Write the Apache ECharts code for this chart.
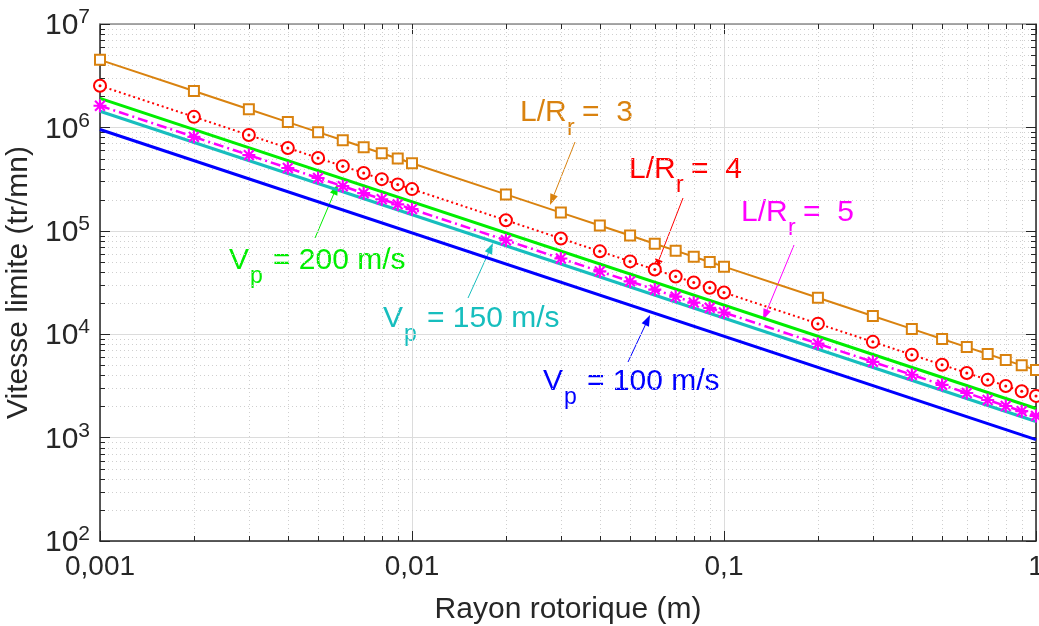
<!DOCTYPE html>
<html>
<head>
<meta charset="utf-8">
<script src="https://cdn.jsdelivr.net/npm/echarts@6/dist/echarts.min.js"></script>
<style>
  html, body { margin: 0; padding: 0; background: #fff; }
  #chart { width: 1039px; height: 626px; }
</style>
</head>
<body>
<div id="chart"></div>
<script>
// rayon rotorique (m)
const radius = [0.001, 0.002, 0.003, 0.004, 0.005, 0.006, 0.007, 0.008, 0.009,
  0.01, 0.02, 0.03, 0.04, 0.05, 0.06, 0.07, 0.08, 0.09,
  0.1, 0.2, 0.3, 0.4, 0.5, 0.6, 0.7, 0.8, 0.9, 1]

// vitesse limite (tr/mn) with markers
const lr3 = [4500000, 2250000, 1500000, 1125000, 900000, 750000, 643000, 562000, 500000,
  450000, 225000, 150000, 112500, 90000, 75000, 64300, 56200, 50000,
  45000, 22500, 15000, 11250, 9000, 7500, 6430, 5620, 5000, 4500]
const lr4 = [2530000, 1265000, 843000, 633000, 506000, 422000, 362000, 316000, 281000,
  253000, 126500, 84300, 63300, 50600, 42200, 36200, 31600, 28100,
  25300, 12650, 8430, 6330, 5060, 4220, 3620, 3160, 2810, 2530]
const lr5 = [1620000, 810000, 540000, 405000, 324000, 270000, 231000, 202000, 180000,
  162000, 81000, 54000, 40500, 32400, 27000, 23100, 20200, 18000,
  16200, 8100, 5400, 4050, 3240, 2700, 2310, 2020, 1800, 1620]

// straight peripheral-speed lines (end points)
const vpRadius = [0.001, 1]
const vp100 = [955000, 955]
const vp150 = [1432000, 1432]
const vp200 = [1910000, 1910]

// tick labels
const xTickLabels = { '-3': '0,001', '-2': '0,01', '-1': '0,1', '0': '1' }
const yDecades = [100, 1000, 10000, 100000, 1000000]
const xDecades = [0.001, 0.01, 0.1]
const minorSteps = [2, 3, 4, 5, 6, 7, 8, 9]

const xMinor = []
xDecades.forEach(d => minorSteps.forEach(m => xMinor.push([d * m, 1000])))
const yMinor = []
yDecades.forEach(d => minorSteps.forEach(m => yMinor.push([0.01, d * m])))

const pairs = (xs, ys) => xs.map((x, i) => [x, ys[i]])

const FONT = '"Liberation Sans", Arial, Helvetica, sans-serif'
const AXIS = '#262626'

const asterisk = 'path://M10,0L14,0L14,24L10,24Z M0,10L24,10L24,14L0,14Z ' +
  'M1.5,4.3L4.3,1.5L22.5,19.7L19.7,22.5Z M19.7,1.5L22.5,4.3L4.3,22.5L1.5,19.7Z'

function minorX(params, api) {
  const cs = params.coordSys
  const px = Math.round(api.coord([api.value(0), 1000])[0]) + 0.5
  const bottom = cs.y + cs.height
  return {
    type: 'group',
    children: [
      { type: 'line', shape: { x1: px, y1: cs.y, x2: px, y2: bottom }, style: { stroke: '#cfcfcf', lineWidth: 1, lineDash: [1, 3] } },
      { type: 'line', shape: { x1: px, y1: bottom, x2: px, y2: bottom - 5 }, style: { stroke: AXIS, lineWidth: 1 } },
      { type: 'line', shape: { x1: px, y1: cs.y, x2: px, y2: cs.y + 5 }, style: { stroke: AXIS, lineWidth: 1 } }
    ]
  }
}

function minorY(params, api) {
  const cs = params.coordSys
  const py = Math.round(api.coord([0.01, api.value(1)])[1]) + 0.5
  const right = cs.x + cs.width
  return {
    type: 'group',
    children: [
      { type: 'line', shape: { x1: cs.x, y1: py, x2: right, y2: py }, style: { stroke: '#cfcfcf', lineWidth: 1, lineDash: [1, 3] } },
      { type: 'line', shape: { x1: cs.x, y1: py, x2: cs.x + 5, y2: py }, style: { stroke: AXIS, lineWidth: 1 } },
      { type: 'line', shape: { x1: right, y1: py, x2: right - 5, y2: py }, style: { stroke: AXIS, lineWidth: 1 } }
    ]
  }
}

function arrow(x1, y1, x2, y2, color) {
  const a = Math.atan2(y2 - y1, x2 - x1)
  const len = 11
  const w = 4
  const bx = x2 - len * Math.cos(a)
  const by = y2 - len * Math.sin(a)
  const nx = -Math.sin(a) * w
  const ny = Math.cos(a) * w
  return [
    { type: 'line', shape: { x1: x1, y1: y1, x2: bx, y2: by }, style: { stroke: color, lineWidth: 1 } },
    { type: 'polygon', shape: { points: [[x2, y2], [bx + nx, by + ny], [bx - nx, by - ny]] }, style: { fill: color } }
  ]
}

function txt(s, x, baseline, size, color) {
  return {
    type: 'text',
    x: x,
    y: baseline - 0.31 * size,
    style: { text: s, font: size + 'px ' + FONT, fill: color, align: 'left', verticalAlign: 'middle' }
  }
}

// label with subscript: main, sub, rest
function subLabel(main, sub, rest, x, baseline, color, subDx, restDx) {
  return [
    txt(main, x, baseline, 30, color),
    txt(sub, x + subDx, baseline + 14, 23, color),
    txt(rest, x + restDx, baseline, 30, color)
  ]
}

const annotations = [].concat(
  subLabel('L/R', 'r', '=  3', 520, 122, '#D9820F', 47, 62),
  arrow(575, 142, 550, 205, '#D9820F'),
  subLabel('L/R', 'r', '=  4', 629, 179, '#FF0000', 47, 62),
  arrow(683, 198, 655, 270, '#FF0000'),
  subLabel('L/R', 'r', '=  5', 741, 222, '#FF00FF', 47, 62),
  arrow(794, 245, 763, 320, '#FF00FF'),
  subLabel('V', 'p', '= 200 m/s', 229, 270, '#00EE00', 21, 44),
  arrow(315, 238, 338, 184, '#00EE00'),
  subLabel('V', 'p', '= 150 m/s', 383, 328, '#17BEBE', 21, 44),
  arrow(468, 298, 493, 243, '#17BEBE'),
  subLabel('V', 'p', '= 100 m/s', 543, 391, '#0000FF', 21, 44),
  arrow(628, 362, 650, 315, '#0000FF')
)

const chart = echarts.init(document.getElementById('chart'))

const logX = {
  type: 'log',
  logBase: 10,
  min: 0.001,
  max: 1,
  splitNumber: 3
}
const logY = {
  type: 'log',
  logBase: 10,
  min: 100,
  max: 10000000,
  splitNumber: 5
}

chart.setOption({
  animation: false,
  backgroundColor: '#fff',
  grid: { left: 100, right: 3, top: 24, bottom: 85, containLabel: false, outerBoundsMode: 'none' },
  xAxis: [
    Object.assign({}, logX, {
      position: 'bottom',
      name: 'Rayon rotorique (m)',
      nameLocation: 'middle',
      nameGap: 54,
      nameTextStyle: { fontFamily: FONT, fontSize: 30, color: AXIS },
      axisLine: { show: true, lineStyle: { color: AXIS, width: 1.5 } },
      axisTick: { show: true, inside: true, length: 10, lineStyle: { color: AXIS } },
      axisLabel: {
        margin: 12,
        fontFamily: FONT,
        fontSize: 28,
        color: AXIS,
        formatter: v => xTickLabels[String(Math.round(Math.log10(v)))]
      },
      splitLine: { show: true, lineStyle: { color: '#dcdcdc', width: 1 } },
      minorTick: { show: false },
      minorSplitLine: { show: false }
    }),
    Object.assign({}, logX, {
      position: 'top',
      axisLine: { show: true, lineStyle: { color: '#8c8c8c', width: 1.5 } },
      axisTick: { show: true, inside: true, length: 10, lineStyle: { color: AXIS } },
      axisLabel: { show: false },
      splitLine: { show: false }
    })
  ],
  yAxis: [
    Object.assign({}, logY, {
      position: 'left',
      name: 'Vitesse limite (tr/mn)',
      nameLocation: 'middle',
      nameGap: 60,
      nameTextStyle: { fontFamily: FONT, fontSize: 30, color: AXIS },
      axisLine: { show: true, lineStyle: { color: AXIS, width: 1.5 } },
      axisTick: { show: true, inside: true, length: 10, lineStyle: { color: AXIS } },
      axisLabel: {
        margin: 10,
        color: AXIS,
        formatter: v => '{b|10}{e|' + Math.round(Math.log10(v)) + '}',
        rich: {
          b: { fontFamily: FONT, fontSize: 30, lineHeight: 34, color: AXIS, verticalAlign: 'bottom' },
          e: { fontFamily: FONT, fontSize: 21, lineHeight: 21, color: AXIS, verticalAlign: 'top' }
        }
      },
      splitLine: { show: true, lineStyle: { color: '#dcdcdc', width: 1 } }
    }),
    Object.assign({}, logY, {
      position: 'right',
      axisLine: { show: true, lineStyle: { color: AXIS, width: 1.5 } },
      axisTick: { show: true, inside: true, length: 10, lineStyle: { color: AXIS } },
      axisLabel: { show: false },
      splitLine: { show: false }
    })
  ],
  series: [
    { type: 'custom', silent: true, z: 1, renderItem: minorX, data: xMinor },
    { type: 'custom', silent: true, z: 1, renderItem: minorY, data: yMinor },
    {
      name: 'Vp = 100 m/s', type: 'line', z: 3, symbol: 'none', silent: true,
      lineStyle: { color: '#0000FF', width: 3 },
      data: pairs(vpRadius, vp100)
    },
    {
      name: 'Vp = 150 m/s', type: 'line', z: 3, symbol: 'none', silent: true,
      lineStyle: { color: '#17BEBE', width: 3 },
      data: pairs(vpRadius, vp150)
    },
    {
      name: 'Vp = 200 m/s', type: 'line', z: 3, symbol: 'none', silent: true,
      lineStyle: { color: '#00EE00', width: 3 },
      data: pairs(vpRadius, vp200)
    },
    {
      name: 'L/Rr = 5', type: 'line', z: 4, silent: true,
      symbol: asterisk, symbolSize: 13,
      itemStyle: { color: '#FF00FF' },
      lineStyle: { color: '#FF00FF', width: 2.5, type: [10, 4, 2, 4] },
      data: pairs(radius, lr5)
    },
    {
      name: 'L/Rr = 4', type: 'line', z: 4, silent: true,
      symbol: 'emptyCircle', symbolSize: 12,
      itemStyle: { color: '#FF0000', borderWidth: 2.5 },
      lineStyle: { color: '#FF0000', width: 2, type: [2, 3] },
      data: pairs(radius, lr4)
    },
    {
      name: 'L/Rr = 4 centre', type: 'line', z: 5, silent: true,
      symbol: 'circle', symbolSize: 3,
      itemStyle: { color: '#FF0000' },
      lineStyle: { opacity: 0 },
      data: pairs(radius, lr4)
    },
    {
      name: 'L/Rr = 3', type: 'line', z: 4, silent: true,
      symbol: 'emptyRect', symbolSize: 10,
      itemStyle: { color: '#D9820F', borderWidth: 2 },
      lineStyle: { color: '#D9820F', width: 2 },
      data: pairs(radius, lr3)
    }
  ],
  graphic: annotations
})
</script>
</body>
</html>
